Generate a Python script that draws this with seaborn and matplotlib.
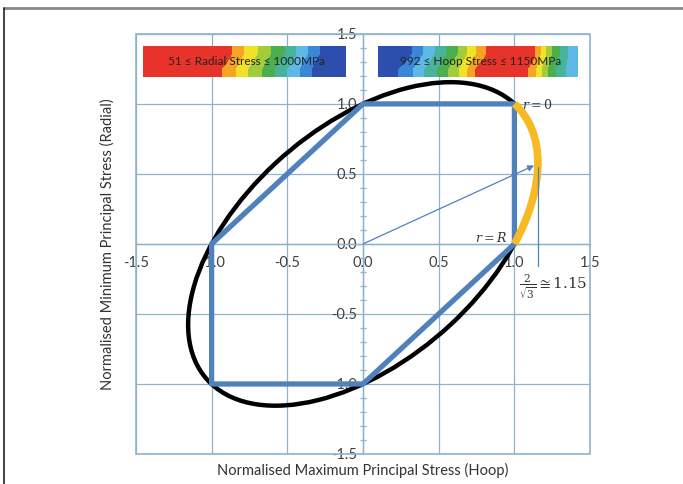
import numpy as np
import pandas as pd
import matplotlib
matplotlib.use("Agg")
import matplotlib.pyplot as plt
import seaborn as sns
from matplotlib.colors import ListedColormap
from matplotlib.lines import Line2D
from matplotlib.patches import Ellipse, Arc, Rectangle

# --------------------------------------------------
# Dados
# --------------------------------------------------
# Tresca hexagon (normalised hoop, radial)
tresca_hoop = [1.0, 1.0, 0.0, -1.0, -1.0, 0.0, 1.0]
tresca_radial = [0.0, 1.0, 1.0, 0.0, -1.0, -1.0, 0.0]

# von Mises ellipse: centre, full axes and rotation
vm_centre = (0.0, 0.0)
vm_major = 2.83
vm_minor = 1.633
vm_angle = 45
# part of the ellipse between r = R and r = 0 (angles in ellipse frame)
arc_start = -45
arc_end = 0

# arrow to the max point of the arc and 2/sqrt(3) marker
arrow_tip = (1.13, 0.56)
limit_hoop = 1.155
limit_span = (0.55, -0.16)

ticks = [-1.5, -1.0, -0.5, 0.0, 0.5, 1.0, 1.5]

# colour strip values (0 = dark blue ... 8 = red), two rows: top / bottom
radial_strip = [[8, 8, 8, 8, 7.6, 6.2, 5.0, 3.8, 2.4, 1.0, 0.0],
                [8, 8, 8, 7.8, 6.9, 5.6, 4.4, 3.1, 1.8, 0.4, 0.0]]
hoop_strip = [[0.0, 0.4, 1.8, 3.2, 4.6, 6.4, 8.0, 8.0, 7.6, 4.6, 2.6],
              [0.4, 1.2, 2.6, 3.9, 5.4, 7.4, 8.0, 8.0, 6.8, 4.0, 2.4]]
strip_colours = ["#2c4fae", "#3b86d6", "#5db8e4", "#47b39a", "#4caf4f",
                 "#a3cc3a", "#f1e228", "#f5a424", "#e7332a"]

df = pd.DataFrame({"hoop": tresca_hoop, "radial": tresca_radial})

# --------------------------------------------------
# Estilo
# --------------------------------------------------
sns.set_theme(style="white")
plt.rcParams["font.family"] = ["Lato", "DejaVu Sans"]
plt.rcParams["axes.unicode_minus"] = False
plt.rcParams["mathtext.fontset"] = "dejavuserif"

grid_c = "#8fb2cd"
blue = "#4f81bd"

fig = plt.figure(figsize=(6.83, 4.84), dpi=100)
ax = fig.add_axes([0.199, 0.062, 0.665, 0.868])

ax.set_xlim(-1.5, 1.5)
ax.set_ylim(-1.5, 1.5)
ax.set_xticks(ticks)
ax.set_yticks(ticks)
ax.set_xticklabels([f"{t:.1f}" for t in ticks])
ax.set_yticklabels([f"{t:.1f}" for t in ticks])
ax.set_yticks(np.arange(-1.5, 1.51, 0.1), minor=True)
ax.grid(True, color=grid_c, lw=0.9)

for s in ["top", "right"]:
    ax.spines[s].set_visible(False)
ax.spines["left"].set_position(("data", 0))
ax.spines["bottom"].set_position(("data", 0))
for s in ["left", "bottom"]:
    ax.spines[s].set_color(grid_c)
    ax.spines[s].set_linewidth(1.0)
ax.add_patch(Rectangle((0, 0), 1, 1, transform=ax.transAxes, fill=False,
                       ec=grid_c, lw=1.2, clip_on=False, zorder=1))

ax.tick_params(axis="both", which="major", length=0, labelsize=10.5,
               labelcolor="#404040")
ax.tick_params(axis="x", pad=9)
ax.tick_params(axis="y", pad=4)
ax.tick_params(axis="y", which="minor", length=4, width=0.9, color=grid_c,
               direction="inout", left=True)

# --------------------------------------------------
# Curvas
# --------------------------------------------------
ax.add_patch(Ellipse(vm_centre, vm_major, vm_minor, angle=vm_angle,
                     fill=False, ec="black", lw=3.2, zorder=3))
sns.lineplot(data=df, x="hoop", y="radial", sort=False, estimator=None,
             color=blue, lw=3.8, ax=ax, zorder=4)
ax.add_patch(Arc(vm_centre, vm_major, vm_minor, angle=vm_angle,
                 theta1=arc_start, theta2=arc_end, color="#f7b924",
                 lw=5.5, zorder=5))

ax.annotate("", xy=arrow_tip, xytext=(0, 0),
            arrowprops=dict(arrowstyle="-|>", color=blue, lw=0.9,
                            mutation_scale=9, shrinkA=0, shrinkB=0),
            zorder=6)
ax.plot([limit_hoop, limit_hoop], limit_span, color=blue, lw=0.9, zorder=6)

ax.text(1.05, 1.0, r"$r=0$", fontsize=9, color="#333333", va="center")
ax.text(0.95, 0.05, r"$r=R$", fontsize=9, color="#333333", va="center",
        ha="right")
ax.text(1.03, -0.31, r"$\frac{2}{\sqrt{3}}\cong 1.15$", fontsize=11,
        color="#333333", va="center")

# --------------------------------------------------
# Barras de cor
# --------------------------------------------------
cmap = ListedColormap(strip_colours)
ax.imshow(np.array(radial_strip), extent=(-1.455, -0.12, 1.19, 1.41),
          aspect="auto", cmap=cmap, vmin=0, vmax=8, interpolation="bilinear",
          interpolation_stage="data", zorder=7)
ax.imshow(np.array(hoop_strip), extent=(0.10, 1.42, 1.19, 1.41),
          aspect="auto", cmap=cmap, vmin=0, vmax=8, interpolation="bilinear",
          interpolation_stage="data", zorder=7)
ax.text(-0.77, 1.30, "51 ≤ Radial Stress ≤ 1000MPa", fontsize=8.5,
        color="#222222", ha="center", va="center", zorder=8)
ax.text(0.78, 1.30, "992 ≤ Hoop Stress ≤ 1150MPa", fontsize=8.5,
        color="#222222", ha="center", va="center", zorder=8)

ax.set_xlabel("Normalised Maximum Principal Stress (Hoop)", fontsize=10.5,
              color="#333333")
ax.set_ylabel("Normalised Minimum Principal Stress (Radial)", fontsize=10.5,
              color="#333333")
ax.xaxis.set_label_coords(0.5, -0.022, transform=ax.transAxes)
ax.yaxis.set_label_coords(-0.045, 0.5, transform=ax.transAxes)
ax.xaxis.label.set_va("top")

# moldura da figura
fig.add_artist(Line2D([0.006, 1.0], [0.984, 0.984], transform=fig.transFigure,
                      color="#888888", lw=2))
fig.add_artist(Line2D([0.006, 0.006], [0.0, 0.984], transform=fig.transFigure,
                      color="#222222", lw=1.2))

fig.savefig("out.png", dpi=100)
plt.close(fig)
